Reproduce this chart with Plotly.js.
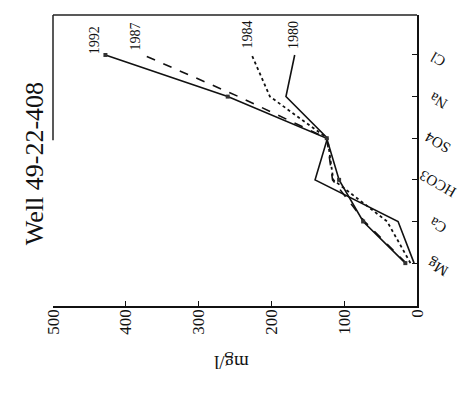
<!DOCTYPE html>
<html>
<head>
<meta charset="utf-8">
<script src="https://cdn.plot.ly/plotly-3.0.1.min.js"></script>
<style>html,body{margin:0;padding:0;background:#fff;}#chart{width:470px;height:394px;}</style>
</head>
<body>
<div id="chart"></div>
<script>
var ions = ["Mg", "Ca", "HCO3", "SO4", "Na", "Cl"];
var years = ["1980", "1984", "1987", "1992"];
var v1980 = [4, 26, 140, 123, 180, 168];
var v1984 = [9, 41, 115, 123, 202, 227];
var v1987 = [15, 72, 116, 124, 245, 376];
var v1992 = [16, 74, 107, 124, 260, 428];
var valueTicks = [0, 100, 200, 300, 400, 500];
// label anchor positions (value, ion index) for year labels
var labelVal = [169, 233, 387, 442];
var labelIdx = [5.48, 5.5, 5.45, 5.36];

var idx = ions.map(function(_, i){ return i; });
var serif = "'Liberation Serif', 'Times New Roman', serif";

var traces = [
  {x: v1980, y: idx, mode: "lines", line: {color: "#111", width: 1.6, dash: "solid"}, name: years[0]},
  {x: v1984, y: idx, mode: "lines", line: {color: "#111", width: 1.8, dash: "dot"}, name: years[1]},
  {x: v1987, y: idx, mode: "lines", line: {color: "#111", width: 1.6, dash: "dash"}, name: years[2]},
  {x: v1992, y: idx, mode: "lines+markers", line: {color: "#111", width: 1.6, dash: "solid"},
   marker: {symbol: "square", size: 4, color: "#333"}, name: years[3]}
];

var annotations = years.map(function(yr, i){
  return {x: labelVal[i], y: labelIdx[i], xref: "x", yref: "y", text: yr, showarrow: false,
          xanchor: "center", yanchor: "middle",
          textangle: -90, font: {family: serif, size: 14, color: "#111"}};
});
// category labels on the right axis (rotated as in the scanned figure)
ions.forEach(function(ion, i){
  annotations.push({x: 1.058, y: i - 0.1, xref: "paper", yref: "y", text: ion, showarrow: false,
    xanchor: "center", yanchor: "middle", textangle: -150,
    font: {family: serif, size: 15, color: "#111"}});
});
annotations.push({x: -0.049, y: 0.488, xref: "paper", yref: "paper", text: "Well 49-22-408",
  showarrow: false, xanchor: "center", yanchor: "middle", textangle: -90,
  font: {family: serif, size: 26, color: "#111"}});
annotations.push({x: 0.49, y: -0.196, xref: "paper", yref: "paper", text: "mg/l",
  showarrow: false, xanchor: "center", yanchor: "middle", textangle: 180,
  font: {family: serif, size: 19, color: "#111"}});

var layout = {
  width: 470, height: 394,
  margin: {l: 53, r: 53, t: 15, b: 88},
  paper_bgcolor: "#fff", plot_bgcolor: "#fff",
  showlegend: false,
  font: {family: serif, color: "#111"},
  xaxis: {range: [500, 0], tickvals: valueTicks, ticktext: valueTicks.map(String),
          tickangle: -90, ticks: "inside", ticklen: 5, tickcolor: "#111", ticklabelstandoff: -5,
          showline: true, linecolor: "#111", linewidth: 1.5, showgrid: false, zeroline: false,
          tickfont: {family: serif, size: 17, color: "#111"}},
  yaxis: {range: [-1.03, 5.96], tickvals: idx, ticktext: ions, side: "right",
          showticklabels: false, ticks: "inside", ticklen: 5, tickcolor: "#111",
          showline: true, linecolor: "#111", linewidth: 1.5, showgrid: false, zeroline: false},
  shapes: [
    {type: "line", xref: "paper", yref: "paper", x0: 0, x1: 1, y0: 1, y1: 1, line: {color: "#222", width: 1.5}},
    {type: "line", xref: "paper", yref: "paper", x0: 0, x1: 0, y0: 1, y1: 0.57, line: {color: "#222", width: 1.5}}
  ],
  annotations: annotations
};

Plotly.newPlot("chart", traces, layout, {displayModeBar: false, staticPlot: true});
</script>
</body>
</html>
